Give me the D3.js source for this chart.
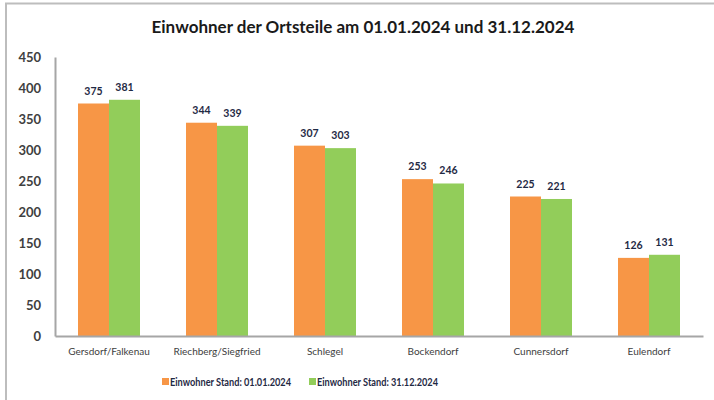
<!DOCTYPE html>
<html>
<head>
<meta charset="utf-8">
<script src="https://cdn.jsdelivr.net/npm/d3@7"></script>
<style>
  body { margin: 0; background: #fff; }
  svg { display: block; font-family: Lato, "Open Sans", sans-serif; }
</style>
</head>
<body>
<div id="chart"></div>
<script>
const WIDTH = 714, HEIGHT = 400;
const MARGIN = { LEFT: 55, RIGHT: 11, TOP: 57, BOTTOM: 64 };

// Daten
const ortsteile = ["Gersdorf/Falkenau", "Riechberg/Siegfried", "Schlegel", "Bockendorf", "Cunnersdorf", "Eulendorf"];
const stand0101 = [375, 344, 307, 253, 225, 126];
const stand3112 = [381, 339, 303, 246, 221, 131];
const serien = ["Einwohner Stand: 01.01.2024", "Einwohner Stand: 31.12.2024"];
const farben = ["#F79646", "#92CD5A"];
const yTicks = [0, 50, 100, 150, 200, 250, 300, 350, 400, 450];

const rows = ortsteile.map((name, i) => ({ name, values: [stand0101[i], stand3112[i]] }));

const svg = d3.select("#chart").append("svg")
  .attr("width", WIDTH)
  .attr("height", HEIGHT);

// Rahmen
svg.append("rect")
  .attr("x", 6).attr("y", 3.5)
  .attr("width", WIDTH + 10).attr("height", HEIGHT + 10)
  .attr("fill", "none")
  .attr("stroke", "#bdbdbd")
  .attr("stroke-width", 2);

// Titel
svg.append("text")
  .attr("x", 363).attr("y", 33)
  .attr("text-anchor", "middle")
  .attr("font-size", 17)
  .attr("font-weight", "bold")
  .attr("fill", "#1a1a1a")
  .text("Einwohner der Ortsteile am 01.01.2024 und 31.12.2024");

const x0 = d3.scaleBand()
  .domain(ortsteile)
  .range([MARGIN.LEFT, WIDTH - MARGIN.RIGHT])
  .paddingInner(0.426)
  .paddingOuter(0.213);

const x1 = d3.scaleBand()
  .domain([0, 1])
  .range([0, x0.bandwidth()]);

const y = d3.scaleLinear()
  .domain([0, 450])
  .range([HEIGHT - MARGIN.BOTTOM, MARGIN.TOP]);

// Balken
const groups = svg.selectAll(".grp")
  .data(rows)
  .enter().append("g")
  .attr("class", "grp")
  .attr("transform", d => `translate(${x0(d.name)},0)`);

groups.selectAll("rect")
  .data(d => d.values)
  .enter().append("rect")
  .attr("x", (v, i) => x1(i))
  .attr("y", v => y(v))
  .attr("width", x1.bandwidth())
  .attr("height", v => y(0) - y(v))
  .attr("fill", (v, i) => farben[i]);

groups.selectAll("text")
  .data(d => d.values)
  .enter().append("text")
  .attr("x", (v, i) => x1(i) + x1.bandwidth() / 2)
  .attr("y", v => y(v) - 9)
  .attr("text-anchor", "middle")
  .attr("font-size", 10.5)
  .attr("font-weight", "bold")
  .attr("fill", "#1f2a44")
  .text(v => v);

// Y-Achse
const yAxis = svg.append("g")
  .attr("transform", `translate(${MARGIN.LEFT},0)`)
  .call(d3.axisLeft(y).tickValues(yTicks).tickSize(0).tickPadding(14));
yAxis.select(".domain").attr("stroke", "#a6a6a6").attr("stroke-width", 2);
yAxis.selectAll("text")
  .attr("font-family", "Lato, sans-serif")
  .attr("font-size", 13)
  .attr("font-weight", "bold")
  .attr("fill", "#404040");

// X-Achse
const xAxis = svg.append("g")
  .attr("transform", `translate(0,${y(0)})`)
  .call(d3.axisBottom(x0).tickSize(0).tickPadding(12).tickSizeOuter(0));
xAxis.select(".domain").attr("stroke", "#a6a6a6").attr("stroke-width", 2);
xAxis.selectAll("text")
  .attr("font-family", "Lato, sans-serif")
  .attr("font-size", 10)
  .attr("fill", "#404040");

// Legende
const legendX = [162, 309];
const legend = svg.selectAll(".leg")
  .data(serien)
  .enter().append("g")
  .attr("class", "leg")
  .attr("transform", (d, i) => `translate(${legendX[i]},382)`);
legend.append("rect")
  .attr("x", 0).attr("y", -4)
  .attr("width", 7).attr("height", 7)
  .attr("fill", (d, i) => farben[i]);
legend.append("text")
  .attr("x", 8).attr("y", 4)
  .attr("font-size", 10.5)
  .attr("font-weight", "bold")
  .attr("fill", "#1f2a44")
  .attr("textLength", 121)
  .attr("lengthAdjust", "spacingAndGlyphs")
  .text(d => d);
</script>
</body>
</html>
